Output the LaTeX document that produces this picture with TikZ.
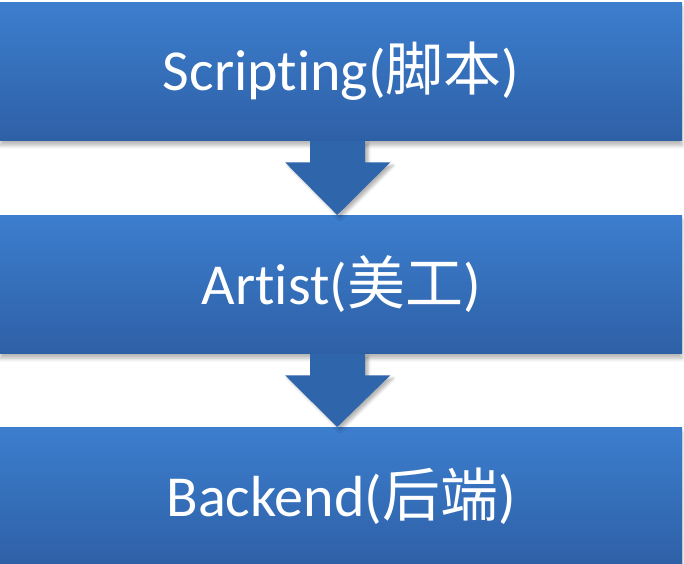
\documentclass[tikz,border=0pt]{standalone}
\usepackage{fontspec}
\setmainfont{Carlito}[Ligatures={NoCommon}]
\newfontfamily\cjk{Noto Sans CJK SC}
\usetikzlibrary{calc,shadows.blur}
\definecolor{boxtop}{RGB}{60,126,206}
\definecolor{boxbot}{RGB}{46,96,166}
\definecolor{arrowblue}{RGB}{46,101,171}
\tikzset{
  stagebox/.style={rectangle, inner sep=0pt, minimum width=682pt, minimum height=138pt,
    top color=boxtop, bottom color=boxbot, draw=none, text=white,
    font=\fontsize{58}{62}\selectfont,
    blur shadow={shadow xshift=0pt, shadow yshift=-5pt, shadow blur radius=4pt, shadow opacity=30}},
  blockarrow/.style={fill=arrowblue, draw=none,
    blur shadow={shadow xshift=3pt, shadow yshift=-3pt, shadow blur radius=3pt, shadow opacity=30}}
}
\begin{document}
\begin{tikzpicture}[x=1pt,y=-1pt]
\useasboundingbox (0,0) rectangle (684,563);
\node[stagebox, anchor=north west] (b1) at (0,2) {Scripting({\cjk 脚本})};
\node[stagebox, anchor=north west] (b2) at (0,215) {Artist({\cjk 美工})};
\node[stagebox, anchor=north west] (b3) at (0,427) {Backend({\cjk 后端})};
% block arrows, placed from box to box
\foreach \a/\b in {b1/b2, b2/b3}{
  \path[blockarrow]
    ($(\a.south)+(-31,0)$) -- ($(\a.south)+(24,0)$) -- ($(\a.south)+(24,22)$)
    -- ($(\a.south)+(49,22)$) -- ($(\b.north)+(-4,0)$)
    -- ($(\a.south)+(-56,22)$) -- ($(\a.south)+(-31,22)$) -- cycle;
}
\end{tikzpicture}
\end{document}
